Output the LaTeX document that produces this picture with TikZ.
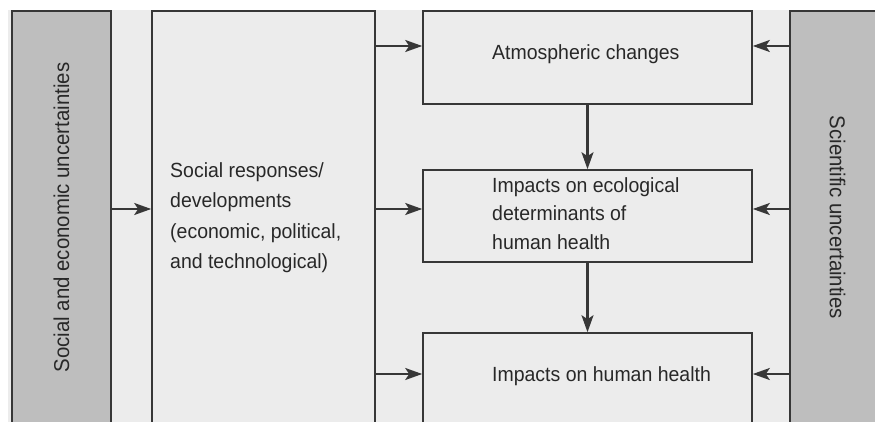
\documentclass[tikz,border=0pt]{standalone}
\usepackage{fontspec}
\setmainfont{Liberation Sans}[FakeStretch=0.95]
\usetikzlibrary{arrows.meta}
\definecolor{pagegray}{RGB}{236,236,236}
\definecolor{bargray}{RGB}{190,190,190}
\definecolor{inkgray}{RGB}{55,55,55}
\definecolor{textgray}{RGB}{40,40,40}
\begin{document}
\begin{tikzpicture}
[x=1pt,y=-1pt,
 ar/.style={-{Stealth[length=17pt,width=12pt,inset=4pt]},line width=2.2pt,draw=inkgray},
 bx/.style={draw=inkgray,line width=1.6pt,fill=pagegray,inner sep=0pt},
 bar/.style={bx,fill=bargray},
 tx/.style={font=\fontsize{20.5}{28.5}\selectfont,text=textgray,align=left,anchor=west,inner sep=0pt},
 vt/.style={font=\fontsize{21.5}{24}\selectfont,text=textgray}]
\useasboundingbox (0,0) rectangle (875,422);
\fill [pagegray] (8,10) rectangle (875,422);
\clip (8,10) rectangle (875,422);

% uncertainty bars
\node [bar, minimum width=99, minimum height=413] at (61.5,217.5) (sebar) {};
\node [vt, rotate=90] at (sebar) (setxt) {Social and economic uncertainties};
\node [bar, minimum width=95, minimum height=413] at (837.5,217.5) (scibar) {};
\node [vt, rotate=-90] at (scibar) (scitxt) {Scientific uncertainties};

% boxes
\node [bx, minimum width=223, minimum height=413] at (263.5,217.5) (social) {};
\node [tx, font=\fontsize{20.5}{30.5}\selectfont] at (170,217.5) (soctxt)
  {Social responses/\\developments\\(economic, political,\\and technological)};
\node [bx, minimum width=329, minimum height=93] at (587.5,57.5) (atm) {};
\node [tx] at (492,54) (atmtxt) {Atmospheric changes};
\node [bx, minimum width=329, minimum height=92] at (587.5,216) (eco) {};
\node [tx] at (492,213.5) (ecotxt) {Impacts on ecological\\determinants of\\human health};
\node [bx, minimum width=329, minimum height=91] at (587.5,378.5) (hh) {};
\node [tx] at (492,376) (hhtxt) {Impacts on human health};

\coordinate (r1) at (0,46);
\coordinate (r2) at (0,209);
\coordinate (r3) at (0,374);

\draw [ar] (sebar.east |- r2) -- (social.west |- r2);
\draw [ar] (social.east |- r1) -- (atm.west |- r1);
\draw [ar] (social.east |- r2) -- (eco.west |- r2);
\draw [ar] (social.east |- r3) -- (hh.west |- r3);
\draw [ar] (scibar.west |- r1) -- (atm.east |- r1);
\draw [ar] (scibar.west |- r2) -- (eco.east |- r2);
\draw [ar] (scibar.west |- r3) -- (hh.east |- r3);
\draw [ar] (atm.south) -- (eco.north);
\draw [ar] (eco.south) -- (hh.north);
\end{tikzpicture}
\end{document}
